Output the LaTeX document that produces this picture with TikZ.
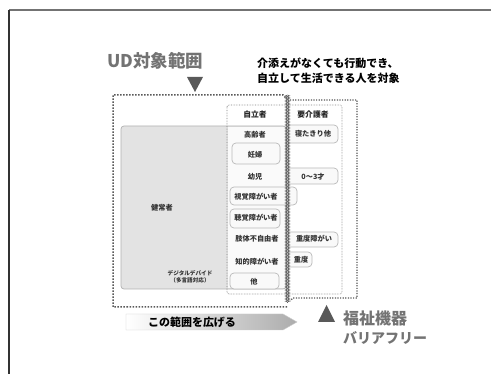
\documentclass[tikz,border=0pt]{standalone}
\usepackage{fontspec}
\newfontfamily\jp{Noto Sans CJK JP}
\newfontfamily\jpblack{Noto Sans CJK JP Black}
\usetikzlibrary{decorations.pathmorphing}
\begin{document}
\begin{tikzpicture}[x=1pt,y=-1pt,
  lbl/.style={font=\jp\bfseries\fontsize{7.2}{8}\selectfont, text=black!80, inner sep=0pt},
  hdr/.style={font=\jp\bfseries\fontsize{7.8}{9}\selectfont, text=black!85, inner sep=0pt},
  bigtxt/.style={font=\jpblack\fontsize{#1}{#1}\selectfont, text=black!55, inner sep=0pt, anchor=west},
  rowbox/.style={fill=gray!5, draw=gray!55, line width=0.7pt, rounded corners=4pt},
  udline/.style={draw=black!65, line width=1.5pt, dash pattern=on 1.5pt off 1.5pt},
  colline/.style={draw=black!50, line width=0.6pt, densely dotted},
  zz/.style={draw=black!60, line width=0.55pt, decorate, decoration={zigzag, segment length=3pt, amplitude=2pt}}
]
\useasboundingbox (0,0) rectangle (491,374);
\fill[white] (0,0) rectangle (491,374);
% frame
\draw[black!55, line width=1.6pt] (9,10) -- (491,10);
\draw[black!80, line width=1.4pt] (9,10) -- (9,374);

% titles
\node[bigtxt=17.5] (ud) at (107,61) {UD対象範囲};
\fill[black!65] (187,77) -- (203,77) -- (195,92) -- cycle;
\node[font=\jpblack\fontsize{11}{15}\selectfont, text=black, anchor=north west, align=left, inner sep=0pt] (note) at (257,58) {介添えがなくても行動でき、\\自立して生活できる人を対象};

% healthy people box
\draw[fill=gray!22, draw=gray!60, line width=0.7pt, rounded corners=3pt] (121,126) rectangle (286,289);
\fill[gray!4] (228,127) rectangle (285,288);
\node[lbl] (kenjo) at (162,208) {健常者};
\node[font=\jp\bfseries\fontsize{5.6}{7}\selectfont, text=black!80, align=center, inner sep=0pt] (digital) at (190,277) {デジタルデバイド\\（多言語対応）};

% row boxes in 自立者 column
\draw[rowbox] (232,143) rectangle (280,164);
\draw[rowbox] (230,187) rectangle (297,205);
\draw[rowbox] (230,209) rectangle (280,228);
\draw[rowbox] (230,273) rectangle (279,289);
% extended boxes in 要介護者 column
\draw[rowbox] (289,125) -- (338,125) -- (338,143) -- (289,143);
\draw[rowbox] (289,168) -- (338,168) -- (338,184) -- (289,184);
\draw[rowbox] (289,232) -- (338,232) -- (338,247) -- (289,247);
\draw[rowbox] (289,252) -- (312,252) -- (312,267) -- (289,267);

% column dotted box
\draw[colline, rounded corners=2pt] (227,105) rectangle (342,294);

% UD range box
\draw[udline] (287,307) -- (113,307) -- (113,95) -- (283,95) -- (287,99);
% welfare box
\draw[draw=black!65, line width=1.2pt, dash pattern=on 1.2pt off 1.4pt] (290,100) -- (357,100) -- (357,298) -- (293,298) -- (290,301);
% zigzag overlap border
\draw[zz] (287.5,95) -- (287.5,303);
\draw[zz, decoration={mirror}] (287.5,95) -- (287.5,303);

% headers
\node[hdr] (jiritsu) at (255,115) {自立者};
\node[hdr] (yokaigo) at (313,115) {要介護者};

% row labels
\node[lbl] (r1) at (255,135) {高齢者};
\node[lbl] (r1b) at (313,134) {寝たきり他};
\node[lbl] (r2) at (255,155) {妊婦};
\node[lbl] (r3) at (255,177) {幼児};
\node[lbl] (r3b) at (313,177) {0〜3才};
\node[lbl] (r4) at (256,197) {視覚障がい者};
\node[lbl] (r5) at (256,218) {聴覚障がい者};
\node[lbl] (r6) at (257,239) {肢体不自由者};
\node[lbl] (r6b) at (314,239) {重度障がい};
\node[lbl] (r7) at (257,262) {知的障がい者};
\node[lbl] (r7b) at (301,260) {重度};
\node[lbl] (r8) at (254,282) {他};

% bottom arrow
\shade[left color=white, right color=gray!65, draw=gray!40, line width=0.4pt] (126,314) -- (283,314) -- (297,322) -- (283,330) -- (126,330) -- cycle;
\node[font=\jpblack\fontsize{11}{12}\selectfont, text=black, inner sep=0pt] (expand) at (192,322) {この範囲を広げる};

% welfare equipment
\fill[black!65] (318,322) -- (335,322) -- (326.5,305) -- cycle;
\node[bigtxt=16] (fukushi) at (343,318) {福祉機器};
\node[bigtxt=14] (barrier) at (343,338) {バリアフリー};
\end{tikzpicture}
\end{document}
